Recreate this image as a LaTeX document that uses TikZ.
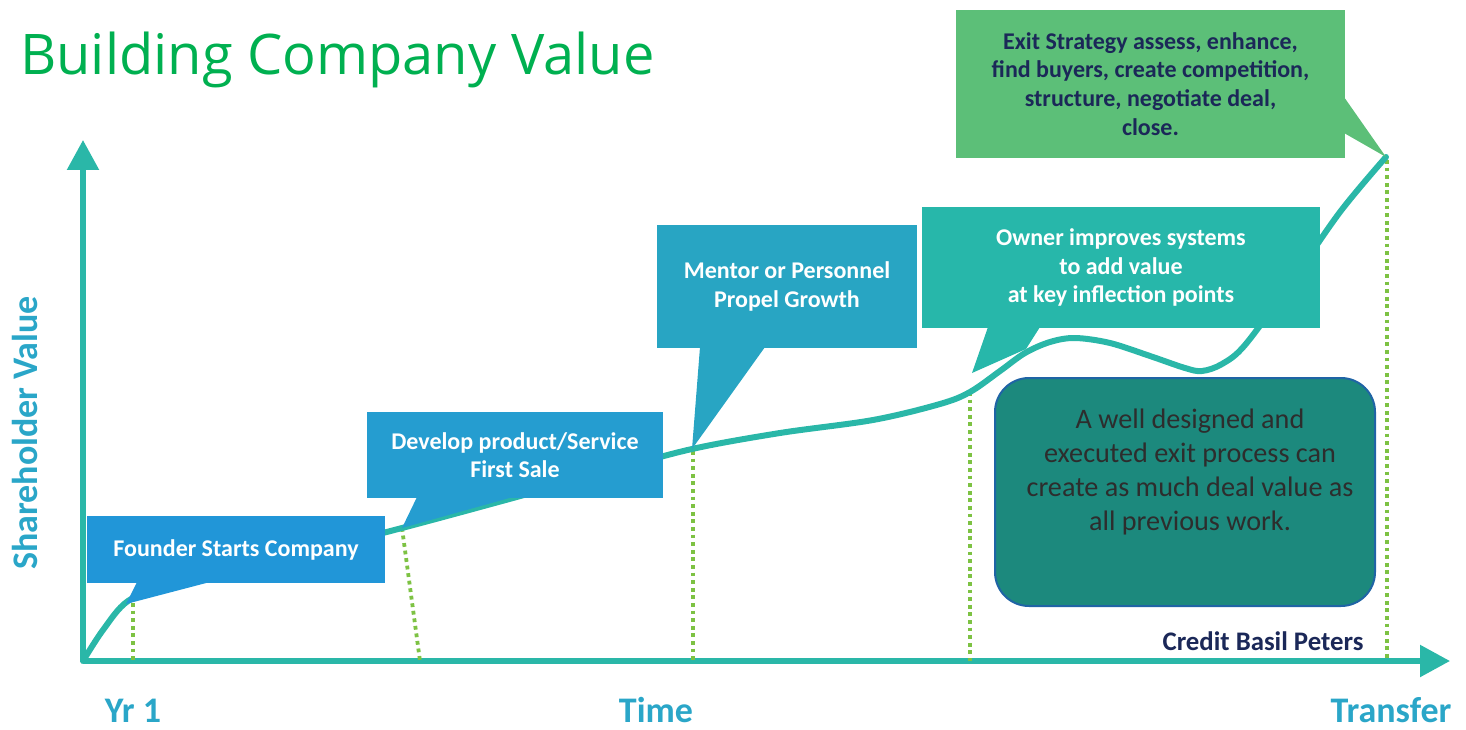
\documentclass[tikz,border=0pt]{standalone}
\usepackage{fontspec}
\setmainfont{Carlito}
\newfontfamily\titlefont{Open Sans}
\usetikzlibrary{arrows.meta}

\definecolor{axisteal}{RGB}{42,183,168}
\definecolor{founderblue}{RGB}{33,150,216}
\definecolor{developblue}{RGB}{37,157,208}
\definecolor{mentorblue}{RGB}{40,165,195}
\definecolor{ownerteal}{RGB}{39,183,170}
\definecolor{exitgreen}{RGB}{92,191,120}
\definecolor{notefill}{RGB}{28,137,125}
\definecolor{noteborder}{RGB}{31,100,165}
\definecolor{dotgreen}{RGB}{125,194,67}
\definecolor{labelblue}{RGB}{42,166,200}
\definecolor{titlegreen}{RGB}{0,176,80}
\definecolor{navy}{RGB}{27,40,88}
\definecolor{notetext}{RGB}{45,45,45}

\tikzset{
  axisline/.style={draw=axisteal, line width=5.5pt, -{Triangle[length=30pt,width=31pt]}},
  valuecurve/.style={draw=axisteal, line width=6pt, line cap=round},
  guide/.style={draw=dotgreen, line width=3.8pt, dash pattern=on 3.8pt off 3.8pt},
  callout/.style={inner sep=0pt, align=center, text=white,
    font=\bfseries\fontsize{24}{28.5}\selectfont},
  axislabel/.style={text=labelblue, font=\bfseries\fontsize{36}{38}\selectfont, inner sep=0pt},
}

\begin{document}
\begin{tikzpicture}[x=1pt,y=-1pt]
\useasboundingbox (0,0) rectangle (1466,730);

% title
\node[anchor=base west, inner sep=0pt, text=titlegreen,
      font=\titlefont\fontsize{56}{60}\selectfont] (title) at (20,75) {Building Company Value};

% axes
\coordinate (O) at (83,661);
\coordinate (xend) at (1450,661);
\coordinate (yend) at (83,140);
\draw[axisline] (O) -- (xend);
\draw[axisline] (O) -- (yend);

% points on the value curve
\coordinate (p1) at (126,604);
\coordinate (p2) at (402,528);
\coordinate (p3) at (692,449);
\coordinate (p4) at (970,392);
\coordinate (p5) at (1386,157);

% dotted guides down to the time axis
\coordinate (b1) at (133,661);
\coordinate (b2) at (420,661);
\coordinate (b3) at (693,661);
\coordinate (b4) at (970,661);
\coordinate (b5) at (1387,661);
\draw[guide] (133,603) -- (b1);
\draw[guide] (p2) -- (b2);
\draw[guide] (693,451) -- (b3);
\draw[guide] (p4) -- (b4);
\draw[guide] (1387,160) -- (b5);

% value curve
\draw[valuecurve] plot[smooth, tension=0.55] coordinates {
  (83,661) (103,630) (128,601) (170,584) (250,562) (330,546) (402,528) (513,498)
  (610,471) (692,449) (780,433) (873,420) (940,404) (970,392)
  (1000,371) (1025,353) (1050,342) (1075,338) (1110,343) (1150,356)
  (1185,368) (1202,371) (1222,364) (1245,345) (1290,284) (1340,212) (1386,157)};

% callout: founder
\node[callout, fill=founderblue, minimum width=298pt, minimum height=67pt] (founder) at (236,549.5) {Founder Starts Company};
\fill[founderblue] (137,582) -- (p1) -- (210,582) -- cycle;

% callout: develop
\node[callout, fill=developblue, minimum width=296pt, minimum height=86pt] (develop) at (515,455) {Develop product/Service\\First Sale};
\fill[developblue] (417,497) -- (p2) -- (513,497) -- cycle;

% callout: mentor
\node[callout, fill=mentorblue, minimum width=260pt, minimum height=123pt] (mentor) at (787,286.5) {Mentor or Personnel\\Propel Growth};
\fill[mentorblue] (700,347) -- (p3) -- (765,347) -- cycle;

% callout: owner
\node[callout, fill=ownerteal, minimum width=398pt, minimum height=121pt] (owner) at (1121,267.5) {Owner improves systems\\to add value\\at key inflection points};
\fill[ownerteal] (988,327) -- (972,373) -- (1026,349) -- (1040,327) -- cycle;

% callout: exit strategy
\node[callout, fill=exitgreen, text=navy, font=\bfseries\fontsize{24}{28.7}\selectfont,
      minimum width=389pt, minimum height=148pt] (exit) at (1150.5,84) {Exit Strategy assess, enhance,\\find buyers, create competition,\\structure, negotiate deal,\\close.};
\fill[exitgreen] (1344,97) -- (p5) -- (1344,133) -- cycle;

% note box
\node[draw=noteborder, line width=2pt, fill=notefill, rounded corners=34pt,
      minimum width=380pt, minimum height=228pt] (note) at (1185,492) {};
\node[inner sep=0pt, align=center, text=notetext, font=\fontsize{28.2}{33.7}\selectfont] (notetxt) at (1190,472)
  {A well designed and\\executed exit process can\\create as much deal value as\\all previous work.};

% credit
\node[anchor=base, inner sep=0pt, text=navy, font=\bfseries\fontsize{26.8}{28}\selectfont] (credit) at (1263,650) {Credit Basil Peters};

% axis labels
\node[axislabel, anchor=base] (yr) at (133,722) {Yr 1};
\node[axislabel, anchor=base] (time) at (656,722) {Time};
\node[axislabel, anchor=base] (transfer) at (1391,722) {Transfer};
\node[axislabel, rotate=90] (shv) at (25,433) {Shareholder Value};
\end{tikzpicture}
\end{document}
